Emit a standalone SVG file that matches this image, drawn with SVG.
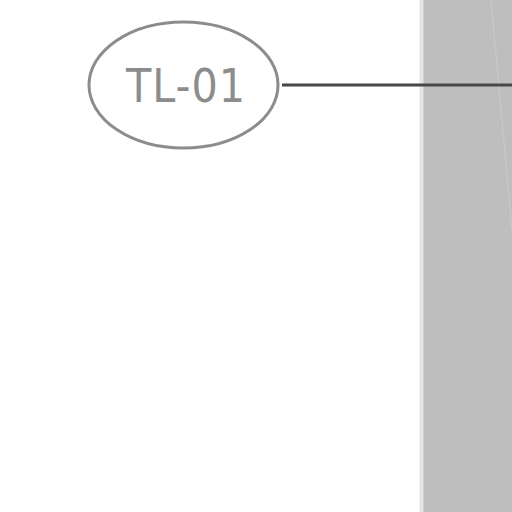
<svg xmlns="http://www.w3.org/2000/svg" width="512" height="512" viewBox="0 0 512 512">
<style>
.node{fill:#fff;stroke:#8c8c8c;stroke-width:3}
.lbl{font-family:"DejaVu Sans Condensed","Liberation Sans Narrow",sans-serif;font-size:46px;fill:#8c8c8c;text-anchor:middle;letter-spacing:1px}
.conn{stroke:#474747;stroke-width:3;fill:none}
</style>
<rect x="0" y="0" width="512" height="512" fill="#fff"/>
<g id="wall">
<rect x="420" y="0" width="92" height="512" fill="#bebebe"/>
<rect x="419.5" y="0" width="4" height="512" fill="#e4e4e4"/>
<line x1="491" y1="0" x2="512" y2="230" stroke="#cacaca" stroke-width="1"/>
</g>
<g id="connectors">
<line class="conn" x1="282" y1="85" x2="512" y2="85"/>
</g>
<g id="TL-01">
<ellipse class="node" cx="183.5" cy="85" rx="94.5" ry="63"/>
<text class="lbl" x="186" y="102">TL-01</text>
</g>
</svg>
